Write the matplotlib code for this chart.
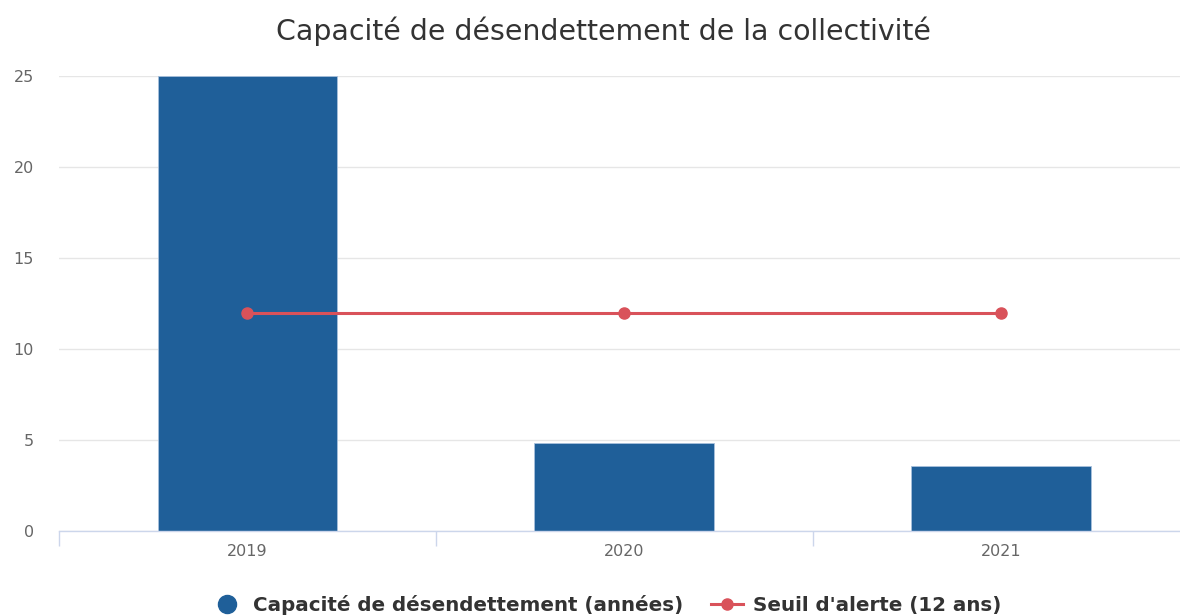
import matplotlib
matplotlib.use('Agg')
import matplotlib.pyplot as plt
from matplotlib.lines import Line2D
import numpy as np

# data
years = ['2019', '2020', '2021']
capacite = [25.0, 4.84, 3.57]
seuil = [12, 12, 12]
yticks = [0, 5, 10, 15, 20, 25]

barColor = '#1f5f99'
lineColor = '#d9525a'

plt.rcParams['font.family'] = ['DejaVu Sans']

W, H = 1180, 616
fig = plt.figure(figsize=(W / 100, H / 100), dpi=100)

# plot area in pixels (the right edge runs slightly past the image)
left, right, top, bottom = 59, 1189.5, 76, 531
ax = fig.add_axes([left / W, 1 - bottom / H, (right - left) / W, (bottom - top) / H])

x = np.arange(len(years))
ax.bar(x, capacite, width=0.477, color=barColor, edgecolor='#a8c0dc',
       linewidth=0.6, zorder=2)
ax.plot(x, seuil, color=lineColor, linewidth=2.2, marker='o', markersize=8,
        zorder=3)

ax.set_xlim(-0.5, len(years) - 0.5)
ax.set_ylim(0, 25)

ax.set_yticks(yticks)
ax.set_yticklabels([str(t) for t in yticks])
ax.grid(axis='y', color='#e6e6e6', linewidth=1, zorder=0)
ax.set_axisbelow(True)

ax.set_xticks(x)
ax.set_xticklabels(years)
ax.set_xticks(np.arange(len(years) + 1) - 0.5, minor=True)
ax.tick_params(axis='x', which='major', length=0, pad=9, labelsize=11.5,
               labelcolor='#666666')
ax.tick_params(axis='x', which='minor', length=11, width=1, color='#ccd6eb')
ax.tick_params(axis='y', length=0, pad=18, labelsize=11.5, labelcolor='#666666')

for s in ['top', 'right', 'left']:
  ax.spines[s].set_visible(False)
ax.spines['bottom'].set_color('#ccd6eb')
ax.spines['bottom'].set_linewidth(1)

fig.text(603 / W, 1 - 31 / H, 'Capacité de désendettement de la collectivité',
         ha='center', va='center', fontsize=20.4, color='#333333')

handles = [
    Line2D([], [], linestyle='none', marker='o', markersize=13,
           color=barColor),
    Line2D([], [], color=lineColor, linewidth=2.2, marker='o', markersize=8),
]
leg = fig.legend(handles, ['Capacité de désendettement (années)',
                           "Seuil d'alerte (12 ans)"],
                 loc='center', bbox_to_anchor=(606 / W, 1 - 605 / H), ncol=2,
                 frameon=False, handlelength=1.6, handletextpad=0.5,
                 columnspacing=1.4, borderpad=0,
                 prop={'weight': 'bold', 'size': 14.3})
for t in leg.get_texts():
  t.set_color('#333333')

fig.savefig('out.png', dpi=100)
